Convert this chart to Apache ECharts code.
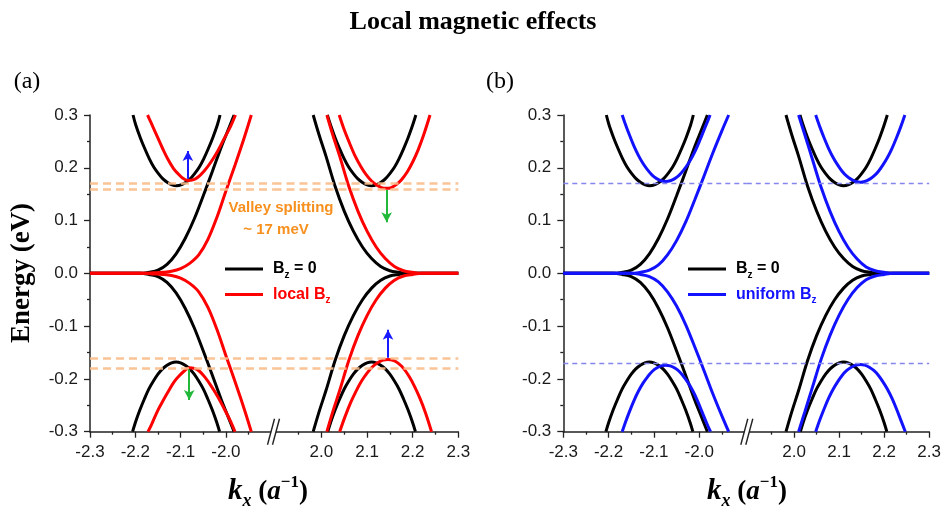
<!DOCTYPE html>
<html>
<head>
<meta charset="utf-8">
<script src="https://cdn.jsdelivr.net/npm/echarts@6/dist/echarts.min.js"></script>
<style>
html,body{margin:0;padding:0;background:#fff;}
#chart{width:944px;height:511px;}
</style>
</head>
<body>
<div id="chart"></div>
<script>
// ---------- tick values ----------
const xTicksLeft = [-2.3, -2.2, -2.1, -2.0];
const xTicksRight = [2.0, 2.1, 2.2, 2.3];
const xMinorLeft = [-2.25, -2.15, -2.05, -1.95];
const xMinorRight = [1.95, 2.05, 2.15, 2.25];

// ---------- B_z = 0 (black), both panels ----------
const bz0LeftCond = [[-2.205,0.300],[-2.199,0.281],[-2.189,0.257],[-2.179,0.236],[-2.169,0.217],[-2.159,0.201],[-2.149,0.189],[-2.139,0.179],[-2.129,0.172],[-2.119,0.1675],[-2.109,0.166],[-2.099,0.1675],[-2.089,0.172],[-2.079,0.179],[-2.069,0.189],[-2.059,0.201],[-2.049,0.217],[-2.039,0.236],[-2.029,0.257],[-2.019,0.281],[-2.013,0.300]];
const bz0LeftVal = [[-2.206,-0.300],[-2.200,-0.283],[-2.190,-0.259],[-2.180,-0.238],[-2.170,-0.219],[-2.160,-0.204],[-2.150,-0.191],[-2.140,-0.181],[-2.130,-0.174],[-2.120,-0.1695],[-2.110,-0.168],[-2.100,-0.1695],[-2.090,-0.174],[-2.080,-0.181],[-2.070,-0.191],[-2.060,-0.204],[-2.050,-0.219],[-2.040,-0.238],[-2.030,-0.259],[-2.020,-0.283],[-2.014,-0.300]];
const bz0LeftEdgeUp = [[-2.30,0],[-2.25,0],[-2.19,0],[-2.17,0.002],[-2.15,0.006],[-2.13,0.017],[-2.11,0.037],[-2.09,0.066],[-2.07,0.103],[-2.05,0.147],[-2.03,0.193],[-2.01,0.240],[-1.995,0.272],[-1.982,0.300]];
const bz0LeftEdgeDown = [[-2.30,0],[-2.25,0],[-2.19,0],[-2.17,-0.002],[-2.15,-0.006],[-2.13,-0.017],[-2.11,-0.037],[-2.09,-0.066],[-2.07,-0.103],[-2.05,-0.147],[-2.03,-0.193],[-2.01,-0.240],[-1.995,-0.272],[-1.982,-0.300]];
const bz0RightCond = [[2.013,0.300],[2.020,0.281],[2.030,0.257],[2.040,0.236],[2.050,0.217],[2.060,0.201],[2.070,0.189],[2.080,0.179],[2.090,0.172],[2.100,0.1675],[2.110,0.166],[2.120,0.1675],[2.130,0.172],[2.140,0.179],[2.150,0.189],[2.160,0.201],[2.170,0.217],[2.180,0.236],[2.190,0.257],[2.200,0.281],[2.207,0.300]];
const bz0RightVal = [[2.014,-0.300],[2.020,-0.283],[2.030,-0.259],[2.040,-0.238],[2.050,-0.219],[2.060,-0.204],[2.070,-0.191],[2.080,-0.181],[2.090,-0.174],[2.100,-0.1695],[2.110,-0.168],[2.120,-0.1695],[2.130,-0.174],[2.140,-0.181],[2.150,-0.191],[2.160,-0.204],[2.170,-0.219],[2.180,-0.238],[2.190,-0.259],[2.200,-0.283],[2.206,-0.300]];
const bz0RightEdgeUp = [[1.982,0.300],[1.995,0.262],[2.01,0.222],[2.03,0.165],[2.05,0.118],[2.07,0.080],[2.09,0.050],[2.11,0.028],[2.13,0.013],[2.15,0.005],[2.17,0.002],[2.19,0],[2.25,0],[2.30,0]];
const bz0RightEdgeDown = [[1.982,-0.300],[1.995,-0.262],[2.01,-0.222],[2.03,-0.165],[2.05,-0.118],[2.07,-0.080],[2.09,-0.050],[2.11,-0.028],[2.13,-0.013],[2.15,-0.005],[2.17,-0.002],[2.19,0],[2.25,0],[2.30,0]];

// ---------- local B_z (red), panel (a) ----------
const locLeftCond = [[-2.173,0.300],[-2.165,0.285],[-2.150,0.256],[-2.140,0.237],[-2.128,0.216],[-2.116,0.199],[-2.106,0.189],[-2.095,0.180],[-2.084,0.176],[-2.073,0.177],[-2.062,0.182],[-2.048,0.194],[-2.033,0.211],[-2.018,0.232],[-2.004,0.255],[-1.990,0.278],[-1.979,0.300]];
const locLeftVal = [[-2.172,-0.300],[-2.164,-0.286],[-2.150,-0.259],[-2.138,-0.240],[-2.126,-0.222],[-2.114,-0.205],[-2.103,-0.194],[-2.092,-0.185],[-2.081,-0.179],[-2.070,-0.180],[-2.059,-0.185],[-2.046,-0.197],[-2.032,-0.214],[-2.017,-0.235],[-2.003,-0.258],[-1.990,-0.280],[-1.980,-0.300]];
const locLeftEdgeUp = [[-2.30,0],[-2.25,0],[-2.18,0],[-2.16,0.001],[-2.14,0.002],[-2.12,0.004],[-2.10,0.009],[-2.08,0.019],[-2.06,0.035],[-2.04,0.064],[-2.02,0.106],[-2.00,0.156],[-1.98,0.205],[-1.96,0.256],[-1.944,0.300]];
const locLeftEdgeDown = [[-2.30,0],[-2.25,0],[-2.18,0],[-2.16,-0.001],[-2.14,-0.002],[-2.12,-0.004],[-2.10,-0.009],[-2.08,-0.019],[-2.06,-0.035],[-2.04,-0.064],[-2.02,-0.106],[-2.00,-0.156],[-1.98,-0.205],[-1.96,-0.256],[-1.944,-0.300]];
const locRightCond = [[2.039,0.300],[2.050,0.272],[2.062,0.246],[2.074,0.222],[2.086,0.203],[2.098,0.187],[2.110,0.175],[2.122,0.167],[2.133,0.162],[2.143,0.161],[2.153,0.1625],[2.164,0.168],[2.176,0.178],[2.188,0.192],[2.200,0.211],[2.212,0.234],[2.224,0.262],[2.238,0.300]];
const locRightVal = [[2.040,-0.300],[2.052,-0.271],[2.064,-0.245],[2.076,-0.223],[2.088,-0.204],[2.100,-0.189],[2.112,-0.177],[2.124,-0.169],[2.135,-0.1645],[2.146,-0.163],[2.157,-0.1648],[2.168,-0.170],[2.180,-0.180],[2.192,-0.195],[2.204,-0.214],[2.216,-0.237],[2.228,-0.264],[2.2414,-0.300]];
const locRightEdgeUp = [[2.012,0.300],[2.025,0.262],[2.04,0.222],[2.06,0.165],[2.08,0.118],[2.10,0.080],[2.12,0.050],[2.14,0.028],[2.16,0.013],[2.18,0.005],[2.20,0.002],[2.22,0],[2.26,0],[2.30,0]];
const locRightEdgeDown = [[2.012,-0.300],[2.025,-0.262],[2.04,-0.222],[2.06,-0.165],[2.08,-0.118],[2.10,-0.080],[2.12,-0.050],[2.14,-0.028],[2.16,-0.013],[2.18,-0.005],[2.20,-0.002],[2.22,0],[2.26,0],[2.30,0]];

// ---------- uniform B_z (blue), panel (b) ----------
const uniLeftCond = [[-2.170,0.300],[-2.164,0.285],[-2.154,0.262],[-2.144,0.241],[-2.134,0.223],[-2.124,0.208],[-2.114,0.196],[-2.104,0.186],[-2.094,0.1795],[-2.084,0.1754],[-2.074,0.174],[-2.064,0.1754],[-2.054,0.1795],[-2.044,0.186],[-2.034,0.196],[-2.024,0.208],[-2.014,0.223],[-2.004,0.241],[-1.994,0.262],[-1.983,0.285],[-1.976,0.300]];
const uniLeftVal = [[-2.170,-0.300],[-2.164,-0.285],[-2.154,-0.262],[-2.144,-0.241],[-2.134,-0.223],[-2.124,-0.208],[-2.114,-0.196],[-2.104,-0.186],[-2.094,-0.1795],[-2.084,-0.1754],[-2.074,-0.174],[-2.064,-0.1754],[-2.054,-0.1795],[-2.044,-0.186],[-2.034,-0.196],[-2.024,-0.208],[-2.014,-0.223],[-2.004,-0.241],[-1.994,-0.262],[-1.983,-0.285],[-1.975,-0.300]];
const uniLeftEdgeUp = [[-2.30,0],[-2.25,0],[-2.15,0],[-2.13,0.002],[-2.11,0.006],[-2.09,0.016],[-2.07,0.035],[-2.05,0.062],[-2.03,0.097],[-2.01,0.139],[-1.99,0.183],[-1.97,0.228],[-1.95,0.270],[-1.935,0.300]];
const uniLeftEdgeDown = [[-2.30,0],[-2.25,0],[-2.15,0],[-2.13,-0.002],[-2.11,-0.006],[-2.09,-0.016],[-2.07,-0.035],[-2.05,-0.062],[-2.03,-0.097],[-2.01,-0.139],[-1.99,-0.183],[-1.97,-0.228],[-1.95,-0.270],[-1.935,-0.300]];
const uniRightCond = [[2.048,0.300],[2.057,0.278],[2.067,0.256],[2.077,0.236],[2.087,0.219],[2.097,0.205],[2.107,0.193],[2.117,0.184],[2.127,0.178],[2.137,0.174],[2.147,0.1725],[2.157,0.174],[2.167,0.178],[2.177,0.184],[2.187,0.193],[2.197,0.205],[2.207,0.219],[2.217,0.236],[2.227,0.256],[2.237,0.278],[2.246,0.300]];
const uniRightVal = [[2.048,-0.300],[2.057,-0.278],[2.067,-0.256],[2.077,-0.236],[2.087,-0.219],[2.097,-0.205],[2.107,-0.193],[2.117,-0.184],[2.127,-0.178],[2.137,-0.174],[2.147,-0.1725],[2.157,-0.174],[2.167,-0.178],[2.177,-0.184],[2.187,-0.193],[2.197,-0.205],[2.207,-0.219],[2.217,-0.236],[2.227,-0.256],[2.237,-0.278],[2.247,-0.300]];
const uniRightEdgeUp = [[2.010,0.300],[2.024,0.262],[2.04,0.218],[2.06,0.163],[2.08,0.117],[2.10,0.079],[2.12,0.049],[2.14,0.027],[2.16,0.012],[2.18,0.005],[2.20,0.002],[2.22,0],[2.26,0],[2.30,0]];
const uniRightEdgeDown = [[2.010,-0.300],[2.024,-0.262],[2.04,-0.218],[2.06,-0.163],[2.08,-0.117],[2.10,-0.079],[2.12,-0.049],[2.14,-0.027],[2.16,-0.012],[2.18,-0.005],[2.20,-0.002],[2.22,0],[2.26,0],[2.30,0]];

// ---------- reference levels and arrows ----------
const splitLevelsA = [0.175, 0.158, -0.163, -0.180];
const uniformLevelsB = [0.172, -0.172];
const arrowsLeftA = [{from:[-2.084,0.179], to:[-2.084,0.232], color:'#1a1aff'}, {from:[-2.081,-0.182], to:[-2.081,-0.240], color:'#22b83a'}];
const arrowsRightA = [{from:[2.143,0.158], to:[2.143,0.097], color:'#22b83a'}, {from:[2.146,-0.160], to:[2.146,-0.107], color:'#1a1aff'}];
const breakPoint = [[-1.895, -0.3]];

// ---------- build ----------
const SANS = '"Liberation Sans", Arial, sans-serif';
const SERIF = '"Liberation Serif", "Times New Roman", serif';
const AXC = '#222';

const grids = [
  {left:90, top:115, width:183.5, height:316.7},
  {left:273.5, top:115, width:184.8, height:316.7},
  {left:563.3, top:115, width:183.5, height:316.7},
  {left:746.8, top:115, width:184.5, height:316.7}
];
const xRanges = [[-2.3,-1.895],[1.895,2.3],[-2.3,-1.895],[1.895,2.3]];
const majors = [xTicksLeft, xTicksRight, xTicksLeft, xTicksRight];
const minors = [xMinorLeft, xMinorRight, xMinorLeft, xMinorRight];

const xAxes = [];
for (let i = 0; i < 4; i++) {
  xAxes.push({
    type:'value', gridIndex:i, min:xRanges[i][0], max:xRanges[i][1], position:'bottom',
    axisLine:{show:true, onZero:false, lineStyle:{color:AXC, width:1.5}},
    axisTick:{show:true, customValues:majors[i], length:6, lineStyle:{color:AXC, width:1.3}},
    axisLabel:{show:true, customValues:majors[i], formatter:v=>Number(v).toFixed(1), margin:12,
      fontFamily:SANS, fontSize:17, color:'#1a1a1a'},
    splitLine:{show:false}
  });
}
for (let i = 0; i < 4; i++) {
  xAxes.push({
    type:'value', gridIndex:i, min:xRanges[i][0], max:xRanges[i][1], position:'bottom',
    axisLine:{show:false, onZero:false},
    axisTick:{show:true, customValues:minors[i], length:3, lineStyle:{color:AXC, width:1.3}},
    axisLabel:{show:false}, splitLine:{show:false}
  });
}
const yAxes = [];
for (let i = 0; i < 4; i++) {
  const vis = (i === 0 || i === 2);
  yAxes.push({
    type:'value', gridIndex:i, min:-0.3, max:0.3, interval:0.1, show:vis,
    axisLine:{show:true, onZero:false, lineStyle:{color:AXC, width:1.5}},
    axisTick:{show:true, length:6, lineStyle:{color:AXC, width:1.3}},
    minorTick:{show:true, splitNumber:2, length:3, lineStyle:{color:AXC, width:1.3}},
    axisLabel:{formatter:v=>Number(v).toFixed(1), margin:12, fontFamily:SANS, fontSize:17, color:'#1a1a1a'},
    splitLine:{show:false}, minorSplitLine:{show:false}
  });
}

function line(name, data, gi, color, z) {
  return {type:'line', name:name, xAxisIndex:gi, yAxisIndex:gi, data:data, showSymbol:false,
    smooth:0.35, color:color, lineStyle:{color:color, width:3},
    itemStyle:{color:color}, z:z, silent:true, animation:false};
}
function levelLines(levels, color, width, dash) {
  return {silent:true, symbol:['none','none'], label:{show:false}, animation:false,
    lineStyle:{color:color, width:width, type:dash},
    data: levels.map(v => ({yAxis:v}))};
}
function arrowLines(arrows) {
  return {silent:true, symbol:['none','arrow'], symbolSize:[8,10], label:{show:false}, animation:false,
    data: arrows.map(a => [{coord:a.from, lineStyle:{color:a.color, width:2, type:'solid'}, itemStyle:{color:a.color}}, {coord:a.to}])};
}
function breakMark(gi) {
  return {type:'custom', xAxisIndex:gi, yAxisIndex:gi, data:breakPoint, clip:false, z:20, silent:true,
    renderItem:(params, api) => {
      const c = api.coord([api.value(0), api.value(1)]);
      const x = c[0] + 0.5, y = c[1];
      return {type:'group', children:[
        {type:'polygon', shape:{points:[[x-6.5,y+13],[x+0.5,y-13],[x+5.5,y-13],[x-1.5,y+13]]}, style:{fill:'#fff'}},
        {type:'line', shape:{x1:x-6.5,y1:y+13,x2:x+0.5,y2:y-13}, style:{stroke:AXC, lineWidth:1.4}},
        {type:'line', shape:{x1:x-1.5,y1:y+13,x2:x+5.5,y2:y-13}, style:{stroke:AXC, lineWidth:1.4}}
      ]};
    }};
}

const RED = '#ff0000', BLUE = '#1212ff', BLACK = '#000000';
const series = [];
// panel (a)
[[0, bz0LeftCond, bz0LeftVal, bz0LeftEdgeUp, bz0LeftEdgeDown], [1, bz0RightCond, bz0RightVal, bz0RightEdgeUp, bz0RightEdgeDown]].forEach(s => {
  for (let k = 1; k < 5; k++) series.push(line('Bz0a', s[k], s[0], BLACK, 2));
});
[[0, locLeftCond, locLeftVal, locLeftEdgeUp, locLeftEdgeDown], [1, locRightCond, locRightVal, locRightEdgeUp, locRightEdgeDown]].forEach(s => {
  for (let k = 1; k < 5; k++) series.push(line('locBz', s[k], s[0], RED, 3));
});
// panel (b)
[[2, bz0LeftCond, bz0LeftVal, bz0LeftEdgeUp, bz0LeftEdgeDown], [3, bz0RightCond, bz0RightVal, bz0RightEdgeUp, bz0RightEdgeDown]].forEach(s => {
  for (let k = 1; k < 5; k++) series.push(line('Bz0b', s[k], s[0], BLACK, 2));
});
[[2, uniLeftCond, uniLeftVal, uniLeftEdgeUp, uniLeftEdgeDown], [3, uniRightCond, uniRightVal, uniRightEdgeUp, uniRightEdgeDown]].forEach(s => {
  for (let k = 1; k < 5; k++) series.push(line('uniBz', s[k], s[0], BLUE, 3));
});
// level lines & arrows (attached to empty carrier series)
function carrier(gi, ml, z) {
  return {type:'line', xAxisIndex:gi, yAxisIndex:gi, data:[], silent:true, z:z, markLine:ml, animation:false};
}
series.push(carrier(0, levelLines(splitLevelsA, 'rgba(249,190,140,0.9)', 2.5, [8,5]), 1));
series.push(carrier(1, levelLines(splitLevelsA, 'rgba(249,190,140,0.9)', 2.5, [8,5]), 1));
series.push(carrier(2, levelLines(uniformLevelsB, '#8585ee', 1.3, [5,4]), 1));
series.push(carrier(3, levelLines(uniformLevelsB, '#8585ee', 1.3, [5,4]), 1));
series.push(carrier(0, arrowLines(arrowsLeftA), 5));
series.push(carrier(1, arrowLines(arrowsRightA), 5));
series.push(breakMark(0));
series.push(breakMark(2));

const legendRich = {
  kb:{color:'#000', fontWeight:'bold', fontSize:16, fontFamily:SANS, lineHeight:22, verticalAlign:'middle'},
  ks:{color:'#000', fontWeight:'bold', fontSize:10, fontFamily:SANS, lineHeight:9, verticalAlign:'bottom'},
  rb:{color:RED, fontWeight:'bold', fontSize:16, fontFamily:SANS, lineHeight:22, verticalAlign:'middle'},
  rs:{color:RED, fontWeight:'bold', fontSize:10, fontFamily:SANS, lineHeight:9, verticalAlign:'bottom'},
  bb:{color:BLUE, fontWeight:'bold', fontSize:16, fontFamily:SANS, lineHeight:22, verticalAlign:'middle'},
  bs:{color:BLUE, fontWeight:'bold', fontSize:10, fontFamily:SANS, lineHeight:9, verticalAlign:'bottom'}
};
function legendFmt(n) {
  if (n === 'Bz0a' || n === 'Bz0b') return '{kb|B}{ks|z}{kb| = 0}';
  if (n === 'locBz') return '{rb|local B}{rs|z}';
  return '{bb|uniform B}{bs|z}';
}
function legend(left, names) {
  return {left:left, top:261, orient:'vertical', padding:0, itemGap:6.5, itemWidth:38, itemHeight:3,
    icon:'rect', selectedMode:false, data:names, formatter:legendFmt,
    textStyle:{rich:legendRich, padding:[0,0,0,5]}};
}

const xLabelRich = {
  k:{fontFamily:SERIF, fontWeight:'bold', fontStyle:'italic', fontSize:29, lineHeight:36, verticalAlign:'middle', fill:'#000'},
  s:{fontFamily:SERIF, fontWeight:'bold', fontStyle:'italic', fontSize:18, lineHeight:14, verticalAlign:'bottom', fill:'#000'},
  p:{fontFamily:SERIF, fontWeight:'bold', fontSize:27, lineHeight:36, verticalAlign:'middle', fill:'#000'},
  a:{fontFamily:SERIF, fontWeight:'bold', fontStyle:'italic', fontSize:27, lineHeight:36, verticalAlign:'middle', fill:'#000'},
  e:{fontFamily:SERIF, fontWeight:'bold', fontSize:17, lineHeight:22, verticalAlign:'top', fill:'#000'}
};
function xLabel(cx) {
  return {type:'text', x:cx, y:492, silent:true,
    style:{text:'{k|k}{s|x}{p| (}{a|a}{e|\u22121}{p|)}', rich:xLabelRich, align:'center', verticalAlign:'middle'}};
}

const option = {
  animation:false,
  backgroundColor:'#ffffff',
  grid:grids,
  xAxis:xAxes,
  yAxis:yAxes,
  legend:[legend(225, ['Bz0a','locBz']), legend(688, ['Bz0b','uniBz'])],
  series:series,
  graphic:[
    {type:'text', x:473, y:22, silent:true, style:{text:'Local magnetic effects', font:'bold 26px ' + SERIF, fill:'#000', align:'center', verticalAlign:'middle'}},
    {type:'text', x:27, y:82, silent:true, style:{text:'(a)', font:'24px ' + SERIF, fill:'#000', align:'center', verticalAlign:'middle'}},
    {type:'text', x:500, y:82, silent:true, style:{text:'(b)', font:'24px ' + SERIF, fill:'#000', align:'center', verticalAlign:'middle'}},
    {type:'text', x:22, y:273, rotation:Math.PI/2, silent:true, style:{text:'Energy (eV)', font:'bold 27px ' + SERIF, fill:'#000', align:'center', verticalAlign:'middle'}},
    xLabel(268),
    xLabel(747),
    {type:'text', x:281, y:208, silent:true, style:{text:'Valley splitting', font:'bold 15px ' + SANS, fill:'#f7901e', align:'center', verticalAlign:'middle'}},
    {type:'text', x:276, y:229.5, silent:true, style:{text:'~ 17 meV', font:'bold 15px ' + SANS, fill:'#f7901e', align:'center', verticalAlign:'middle'}}
  ]
};

const chart = echarts.init(document.getElementById('chart'), null, {renderer:'canvas'});
chart.setOption(option);
</script>
</body>
</html>
